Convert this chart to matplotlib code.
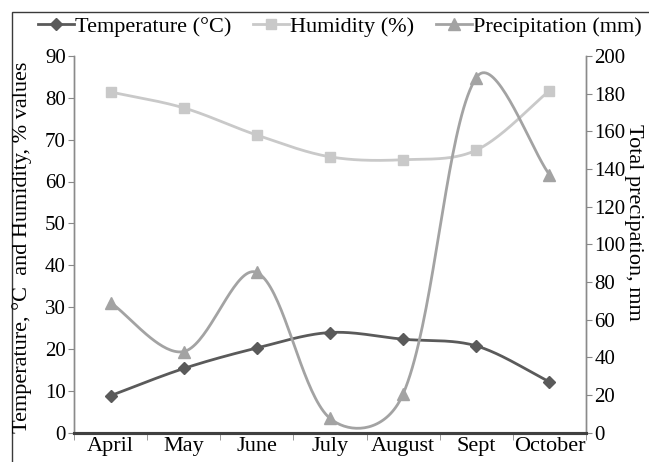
import numpy as np
import matplotlib
matplotlib.use("Agg")
import matplotlib.pyplot as plt
from matplotlib.patches import Rectangle

plt.rcParams["font.family"] = ["Liberation Serif", "DejaVu Serif"]

months = ["April", "May", "June", "July", "August", "Sept", "October"]
temperature = [8.8, 15.3, 20.2, 23.9, 22.3, 20.7, 12.1]
humidity = [81.4, 77.6, 71.1, 65.9, 65.2, 67.5, 81.7]
precipitation = [69, 43, 85, 7.5, 20.5, 188.5, 137]

C_TEMP = "#5a5a5a"
C_HUM = "#c9c9c9"
C_PREC = "#a3a3a3"


def smooth(axis, xs, ys, n=40):
    # Bezier smoothing through every point (spreadsheet-style "smoothed line"),
    # done in screen space so the tangents follow the drawn segment lengths
    tr = axis.transData
    p = tr.transform(np.column_stack([xs, ys]).astype(float))
    pad = np.vstack([p[0], p, p[-1]])
    d = np.hypot(*np.diff(pad, axis=0).T)
    d[d == 0] = 1e-9
    out = [p[:1]]
    t = np.linspace(0, 1, n)[1:, None]
    for i in range(len(p) - 1):
        p0, p3 = pad[i + 1], pad[i + 2]
        f1 = 0.5 / 6 + 0.5 * d[i + 1] / (d[i] + d[i + 1]) / 3
        f2 = 0.5 / 6 + 0.5 * d[i + 1] / (d[i + 1] + d[i + 2]) / 3
        c1 = p0 + (pad[i + 2] - pad[i]) * f1
        c2 = p3 - (pad[i + 3] - pad[i + 1]) * f2
        out.append((1 - t) ** 3 * p0 + 3 * (1 - t) ** 2 * t * c1
                   + 3 * (1 - t) * t ** 2 * c2 + t ** 3 * p3)
    q = tr.inverted().transform(np.vstack(out))
    return q[:, 0], q[:, 1]


fig = plt.figure(figsize=(6.49, 4.62), dpi=100)
ax = fig.add_axes([74 / 649, 1 - 432.5 / 462, 512 / 649, 376.5 / 462])
ax2 = ax.twinx()

x = np.arange(len(months))
fs = 16
fs_num = 15

# outer frame (left and top edges visible)
fig.patches.append(Rectangle((12 / 649, -0.05), 1.1, 1 - 12 / 462 + 0.05,
                             transform=fig.transFigure, fill=False,
                             edgecolor="#3a3a3a", linewidth=1.0))

ax.set_xlim(-0.5, len(months) - 0.5)
ax.set_ylim(0, 90)
ax2.set_ylim(0, 200)

sx, sy = smooth(ax, x, temperature)
ax.plot(sx, sy, color=C_TEMP, lw=2.0, zorder=3)
ax.plot(x, temperature, ls="none", marker="D", ms=6, color=C_TEMP, zorder=4)
sx, sy = smooth(ax, x, humidity)
ax.plot(sx, sy, color=C_HUM, lw=2.0, zorder=3)
ax.plot(x, humidity, ls="none", marker="s", ms=7, color=C_HUM, zorder=4)
sx, sy = smooth(ax2, x, precipitation)
ax2.plot(sx, sy, color=C_PREC, lw=2.0, zorder=3)
ax2.plot(x, precipitation, ls="none", marker="^", ms=8, color=C_PREC, zorder=4)

ax.set_yticks(np.arange(0, 91, 10))
ax2.set_yticks(np.arange(0, 201, 20))
ax.set_xticks(x)
ax.set_xticklabels(months, fontsize=fs)
ax.set_xticks(np.arange(-0.5, len(months), 1), minor=True)
ax.tick_params(axis="x", which="major", length=0, pad=3)
ax.tick_params(axis="x", which="minor", length=5, color="#888888", direction="out")
ax.tick_params(axis="y", labelsize=fs_num, length=4, color="#888888", pad=2)
ax2.tick_params(axis="y", labelsize=fs_num, length=4, color="#888888", pad=2)

for a in (ax, ax2):
    a.spines["top"].set_visible(False)
    a.spines["left"].set_color("#8a8a8a")
    a.spines["right"].set_color("#8a8a8a")
    a.spines["bottom"].set_color("#404040")
    a.spines["bottom"].set_linewidth(2.2)
    a.spines["left"].set_linewidth(1.0)
    a.spines["right"].set_linewidth(1.0)

fig.text(22 / 649, 1 - 247 / 462, "Temperature, \u00b0C  and Humidity, % values",
         rotation=90, ha="center", va="center", fontsize=fs)
fig.text(634 / 649, 1 - 222 / 462, "Total precipation, mm",
         rotation=-90, ha="center", va="center", fontsize=fs)

h1, = ax.plot([], [], color=C_TEMP, lw=2.0, marker="D", ms=6)
h2, = ax.plot([], [], color=C_HUM, lw=2.0, marker="s", ms=7)
h3, = ax.plot([], [], color=C_PREC, lw=2.0, marker="^", ms=8)
fig.legend([h1, h2, h3], ["Temperature (\u00b0C)", "Humidity (%)", "Precipitation (mm)"],
           loc="center", bbox_to_anchor=(340 / 649, 1 - 27 / 462), ncol=3,
           frameon=False, fontsize=fs, handlelength=1.6, handletextpad=0.05,
           columnspacing=1.0, borderaxespad=0)

fig.savefig("out.png", dpi=100, facecolor="white")
